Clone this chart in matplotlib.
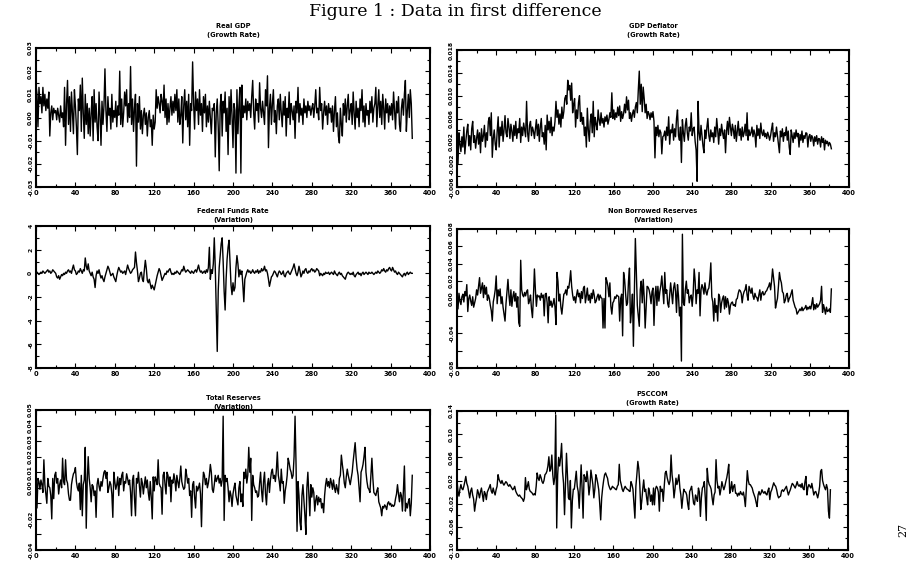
import numpy as np
import matplotlib.pyplot as plt
from matplotlib.ticker import FixedLocator, MultipleLocator

# values; each list is in the unit named in its suffix
# (E3 = thousandths, E4 = ten-thousandths, E1 = tenths), one row per 20 observations

REAL_GDP_E3 = [
    14, 10, -4, 13, 6, 9, 2, 13, 5, 10, 3, 8, 4, 11, -8, 2, 5, -1, 4, 2,
    3, -1, 4, 1, -2, 5, 0, 2, -4, 13, -12, 6, 16, -3, 9, -6, 11, 2, -7, 12,
    5, -4, -16, 8, 3, 14, -6, 17, 2, -9, 10, -3, 6, -7, 4, -8, 2, 9, -10, 12,
    -2, 6, -4, -10, 11, 1, -12, 7, -3, 5, 21, 3, -6, 9, 1, 4, -5, 10, -2, 3,
    0, 7, -4, 5, 1, 20, -3, 8, -4, 2, 11, 5, 12, -2, 6, 0, 22, -3, 8, -6,
    4, 10, -21, 6, -2, 9, -5, 3, -7, 1, 4, -3, 2, -8, 0, 3, -4, -1, -12, 1,
    -5, -2, 12, 4, 9, 6, 2, 10, 7, 3, 14, 0, 8, -3, 6, -2, 4, 9, 1, 7,
    2, 10, 3, 12, -2, 8, -3, 1, 9, -11, 5, 12, -1, 7, -4, 10, -12, 6, 3, 24,
    6, -5, 11, 3, 8, -3, 12, 1, 6, -6, 9, 2, 10, -4, 5, -2, 7, 0, -7, 4,
    3, 6, -17, 2, 8, -4, -23, 5, 10, -8, 7, 2, 11, -6, 4, -16, 9, -3, 12, 1,
    -13, 6, 3, -24, 12, -7, 5, 13, -24, 14, 0, 5, 2, 8, -1, 7, 3, 6, 0, 9,
    16, 2, -5, 8, 3, 6, -2, 15, 4, 0, 7, 2, -3, 12, 5, 18, -13, 4, 10, -3,
    6, 12, -2, 3, -7, 5, 8, -1, 10, 2, -4, 7, 1, 9, -8, 4, 0, 11, -3, 6,
    3, -1, 5, -9, 7, 2, 13, -2, 6, 1, 4, -3, 8, 2, 5, 0, 7, 3, 5, 1,
    4, 6, 0, 5, 12, 2, 4, -1, 13, 3, 6, -5, 2, 7, 1, 5, -3, 6, 2, 4,
    -2, 5, -6, 3, 9, -4, 2, -8, -11, 4, -3, -8, 6, 1, 8, -2, 5, 10, -1, 3,
    6, -3, 11, 2, -5, 7, 0, 4, -4, 8, 3, 12, -2, 5, -4, 6, 1, 3, -3, 7,
    2, 9, -2, 4, 6, 13, -4, 5, 12, 0, 7, -3, 10, 4, -5, 8, 2, 6, -2, 5,
    1, 6, -1, 11, 3, -5, 7, 2, 9, -3, -6, 4, 8, 1, 10, 16, -6, 3, 10, 0, 12, 6, -9,
]

GDP_DEFLATOR_E4 = [
    40, -20, 35, 15, 2, 28, 10, 45, -2, 20, 38, 50, 12, 30, 5, 42, 55, 18, 30, 8,
    25, 40, 15, 35, 0, 42, 20, 30, 48, 10, 35, 22, 55, 62, 30, 70, -8, 25, 40, 15,
    5, 38, 63, 10, 45, 30, 55, 20, 40, 65, 35, 28, 60, 45, 25, 50, 38, 20, 48, 30,
    55, 25, 42, 35, 60, 18, 45, 30, 52, 40, 28, 90, 35, 20, 48, 55, 30, 45, 38, 25,
    42, 58, 30, 50, 20, 45, 60, 28, 35, 15, 48, 5, 66, 40, 55, 35, 62, 30, 45, 38,
    55, 90, 62, 75, 50, 68, 45, 80, 60, 72, 95, 100, 85, 127, 110, 118, 92, 122, 70, 85,
    95, 45, 75, 60, 88, 100, 55, 70, 50, 62, 30, 45, 10, 78, 40, 20, 55, 68, 35, 90,
    28, 62, 50, 40, 75, 58, 48, 70, 52, 60, 45, 63, 55, 66, 50, 58, 70, 62, 105, 60,
    75, 58, 70, 62, 80, 65, 82, 55, 72, 60, 68, 85, 70, 98, 75, 92, 60, 70, 55, 68,
    75, 62, 80, 88, 70, 110, 143, 85, 120, 72, 115, 95, 70, 85, 60, 72, 68, 58, 70, 62,
    72, 55, -9, 45, 30, 48, 28, 40, 35, -2, 28, 30, 38, 22, 45, 30, 63, 15, 40, 35,
    50, 22, 42, 28, 60, 75, 30, 22, 45, -17, 58, 35, 20, 48, 60, 35, 22, 45, 38, 70,
    30, 42, 45, 20, 5, -50, 90, 35, 22, 48, 30, 12, 0, 40, 25, 45, 60, 30, 20, 40,
    28, 35, 18, 45, 28, 60, 40, 15, 42, 30, 50, 35, 25, 40, 0, 38, 55, 32, 62, 45,
    30, 50, 40, 25, 48, 20, 38, 55, 30, 42, 22, 45, 28, 35, 50, 30, 70, 22, 40, 30,
    35, 45, 28, 40, 32, 10, 48, 30, 42, 25, 52, 35, 30, 40, 28, 34, 25, 36, 30, 22,
    30, 42, 52, 20, 35, 28, 45, 30, 15, 0, 38, 28, 42, 20, 35, 30, 45, 22, 38, 10,
    -3, 40, 30, 18, 35, 25, 40, 28, 34, 10, 32, 22, 38, 18, 30, 25, 35, 34, 10, 28,
    32, 20, 30, 26, 12, 28, 20, 30, 15, 25, 24, 10, 28, 18, 25, 5, 22, 16, 20, 12, 18, 15, 7,
]

FED_FUNDS_E1 = [
    0, 1, 0, -1, 0, 1, 0, 2, 1, 0, 1, 2, 3, 1, 2, 0, 1, 3, 2, 1,
    0, -3, -4, -2, -5, -3, -1, -2, 0, -1, 1, 0, 2, 3, 1, 2, 0, 4, 7, 3,
    2, -1, 0, 2, 1, 4, 2, 0, 3, 2, 13, 6, 3, 8, 2, 0, -2, 1, -3, -5,
    -12, -2, 2, 0, 3, -1, -4, -2, -5, -7, -3, 0, 3, 6, 4, 1, -2, -1, 0, -3,
    -5, -7, -2, 2, 5, 3, 1, 2, 0, 1, 2, -1, 3, 7, 4, 2, 0, 1, 3, 4,
    5, 18, 9, 2, -7, -4, 0, 1, -5, -7, 3, 11, 4, -6, -8, -5, -9, -13, -10, -12,
    -14, -10, -6, -2, 1, 4, 2, -2, -6, -4, -2, 0, -1, 2, 1, 3, 4, 1, -1, 0,
    -1, 1, 0, 2, 1, 0, -1, 1, 3, 2, 6, 3, 1, 2, 3, 2, 1, 0, 2, 1,
    0, 2, 3, 1, 4, 7, 3, 1, 2, 0, 1, 2, 0, 3, 1, 5, 22, -5, 3, 0,
    8, 30, 5, -30, -66, -15, 5, 15, 25, 30, 10, -15, -31, -5, 12, 22, 28, 8, -10, -18,
    -8, -15, -12, 5, 15, 8, -3, 3, -1, 2, -10, -24, -5, -2, 1, 3, 1, 2, 0, 1,
    3, 1, 0, 2, 1, 3, 0, 2, 1, 4, 2, 3, 6, 2, 3, 0, -5, -11, -7, -3,
    -2, 0, 2, 1, -1, -3, 0, 2, 1, -1, 0, 2, -2, -3, 0, 1, 2, 0, -1, 1,
    3, 5, 8, 4, 0, -2, 1, 6, 2, -3, -1, 2, 0, 3, 4, 1, 0, 2, 1, 3,
    4, 2, 3, 1, 2, 4, 3, 2, -2, 0, -1, -2, 0, -1, 1, 0, 0, 1, -1, 0,
    1, 0, -1, 2, 0, -1, -2, 0, 1, -1, 0, -2, -3, -4, -5, -2, 0, 1, 0, -1,
    0, -1, 1, -2, -3, -1, 0, 1, -1, 0, -2, 0, 1, -1, 0, 1, 0, -1, 1, 0,
    0, 1, 0, -1, 0, 1, 0, 2, 1, 0, 1, 3, 2, 4, 2, 1, 3, 2, 4, 5,
    3, 2, 5, 3, 1, 2, 0, -1, 1, 0, -1, -2, -3, -1, 0, -2, 0, 1, -1, 0, 1, 0, 0,
]

NONBORROWED_E3 = [
    0, -12, 6, -3, -7, 2, 5, -4, 8, 3, 16, -15, 0, 4, -3, -8, 2, -10, -5, 0,
    10, 4, 14, 24, 6, 12, 18, 1, 15, 5, 13, -2, 4, 0, -8, -14, -26, -4, 2, 10,
    26, -6, 10, 3, 11, -6, 2, -10, -18, -26, -6, 8, 22, 4, -8, 10, -9, 2, 8, -3,
    6, -10, 2, -28, -32, 44, 10, 4, 2, 7, 3, 8, 10, -6, -2, 4, -12, -22, 2, 34,
    10, -9, 4, 2, 3, -2, 6, 1, 4, -20, 5, 6, -5, -28, 2, -8, -3, -10, -6, 0,
    -10, -30, 30, 20, -3, 5, -10, -18, -7, 5, 6, 10, 4, 14, 12, 20, 32, 14, 4, -2,
    2, -5, 4, 10, 2, 6, -5, 8, 0, 12, 14, -5, 3, 12, -2, 4, -5, 6, 0, 10,
    4, -5, -3, 2, 5, -2, 4, 1, 0, -34, 0, -34, 24, 20, 14, 2, 18, -9, -18, -5,
    -3, 2, 0, 4, 3, 2, -26, 0, 5, -43, 30, 22, 6, -8, -5, 20, 35, -28, -15, 5,
    -55, 10, 69, 30, -8, -20, -32, 10, 20, -5, 22, 2, -34, -10, 14, 13, 10, 4, -6, 8,
    12, -31, 3, 14, -8, 14, -3, 8, 15, 26, 10, -6, 30, 6, 10, -6, -10, 4, 18, 6,
    -6, 12, 18, 8, -16, 16, 3, -20, -10, -72, 74, -5, -8, 10, 20, 6, 10, -5, 2, 4,
    -9, 6, 34, 20, -6, 10, 6, 30, -20, 10, 16, 12, 5, 18, 8, 4, 10, 12, 22, 41,
    2, -4, -26, 0, -16, -8, -26, 5, 2, -16, -5, 0, 3, -12, 2, -10, 0, -5, -18, -8,
    -5, -4, -8, -7, -9, -1, 0, 6, 10, 9, 6, -5, 4, 8, 10, 16, 4, -2, 14, 10,
    6, 12, 3, -1, 6, 2, 1, -3, 4, 10, -2, 6, 8, 4, 5, 8, 9, 12, 14, 18,
    10, 20, 34, 24, 14, -11, -5, 0, 14, 30, 22, 18, 8, 6, -5, -2, 4, 6, -4, 0,
    2, 6, 10, -2, -6, -10, -12, -18, -16, -14, -12, -14, -10, -14, -12, -11, -8, -13, -10, -12,
    -9, -12, -6, 1, -13, -7, -12, -6, -10, -8, -6, -2, 14, -16, -7, -12, -18, -10, -15, -14, -12, -16, 11,
]

TOTAL_RESERVES_E3 = [
    11, -13, 6, 4, -1, 5, 2, -3, 18, 2, -4, -10, 6, 1, 0, -5, -20, 6, -7, 8,
    10, 3, 6, -4, 2, 5, 0, 19, 4, 2, 18, 5, 3, -4, -8, -8, 2, 6, 9, 10,
    13, 4, 0, -2, 3, -14, 8, -18, 2, 5, 26, -26, 4, 20, 6, 0, -9, 2, 1, -5,
    -2, -19, 2, 6, 1, -2, 4, 1, 6, 10, 11, 6, 10, -3, 0, 4, 2, -4, -19, 10,
    4, -1, 2, 7, -5, 6, 2, 8, 10, -2, 4, 3, 9, 6, 2, 5, -3, -18, 5, 8,
    -7, -18, 6, 3, 10, 1, -6, 6, 3, -4, 2, 7, 0, 5, -3, -8, 4, -6, -20, 7,
    -2, 7, 5, 2, 18, 3, 1, 0, -17, 8, 10, 2, -4, 10, 8, 1, 7, -9, 5, 3,
    9, 5, -2, 8, 4, 0, 6, 14, 4, 1, -1, 0, 12, 8, 3, 6, -5, -2, -19, 2,
    4, -6, -13, 1, -2, 0, 3, -4, -25, 0, 10, 8, 2, 6, 0, 3, 8, 15, 10, -1,
    -3, 2, 8, 4, 6, 8, 3, 6, 1, 5, 46, -21, 8, 4, 6, 0, -9, -2, -5, -12,
    -4, 0, 3, -5, -8, -11, 0, 4, -9, -4, -12, 10, 6, 12, 3, 8, 26, 10, 19, -21,
    8, 2, 0, -3, -2, -6, -5, 3, 10, -2, -9, 4, 10, -4, -11, 2, 6, -3, 5, 10,
    12, 6, 8, 4, 11, 23, 8, 4, -2, 12, 3, 4, -10, -2, 2, 8, 19, 16, 12, 10,
    6, 8, 20, 46, 15, -28, 4, -5, -22, -27, -5, 2, -8, -18, -30, 0, 10, -4, -18, 2,
    -6, 0, -3, -15, -8, -5, -11, -6, -9, -7, -13, -10, -16, -5, 2, 6, 1, 4, 0, 6,
    3, -1, 5, 0, -3, 2, -1, -4, 6, 8, 21, 15, 10, 3, 0, 7, 12, 8, 5, 2,
    6, 10, 17, 23, 29, 19, 12, 8, 0, -9, 10, 12, 15, 20, 26, 10, 4, 0, -1, -3,
    8, 19, 6, -3, -4, -5, -2, 0, -9, -11, -13, -18, -12, -13, -11, -12, -14, -10, -9, -11,
    -10, -12, -11, -12, -11, -7, -4, 2, -4, -9, -3, -5, -15, -2, 14, -15, -10, -13, -9, -7, -18, -10, 8,
]

PSCCOM_E3 = [
    20, 1, -7, 5, 13, 6, 4, 10, 18, 27, 15, 10, 0, -10, 2, 7, -5, -12, -33, -20,
    -10, 4, -2, -10, 0, 7, -5, -16, 1, -3, -13, 0, 4, 8, 13, 2, -2, 7, 0, -5,
    4, 10, 30, 22, 18, 15, 20, 15, 12, 15, 18, 16, 12, 10, 13, 10, 7, 4, 6, 10,
    2, -2, -5, -7, -5, -8, -10, -12, -16, -10, 25, 4, 10, 18, 5, 1, 0, -2, -5, -3,
    -5, 10, 33, 24, 20, 30, 25, 18, 15, 20, 30, 32, 36, 45, 61, 36, 40, 64, 30, 13,
    25, 133, -62, 30, 60, 45, 60, 84, 35, 15, -39, 12, 67, 30, -10, -13, 20, -62, -15, 5,
    5, 20, 36, 10, 1, -28, 10, 47, 5, -45, 30, 25, 18, 36, 20, -5, 10, 38, 25, 13,
    -10, 5, 30, 24, 15, 4, -20, -48, -10, 7, 20, 30, 33, 28, 24, 13, 8, 4, 6, 10,
    8, 7, 5, 4, 10, 13, 48, 20, 13, 5, 1, 6, 10, 7, 5, 4, 2, 1, 18, 13,
    5, -20, -45, 10, 30, 53, 40, 13, -30, -16, 5, 21, 1, 5, -10, -22, 7, 0, -16, -5,
    -22, 7, -22, 5, 10, 7, 0, -33, 10, 1, 5, -16, 10, 33, 36, 25, 18, 13, 20, 64,
    30, 15, -10, 5, 24, 13, 20, 30, 7, -5, -28, -10, 5, 1, 0, -5, -20, -30, 1, 5,
    10, -5, -19, -22, -5, -10, -16, 7, 0, -42, -10, 7, 10, 18, -10, -49, 41, 20, 13, 10,
    5, -10, -22, -5, 0, 56, 20, 7, 10, -5, 5, 18, 10, 4, 10, 18, 25, 35, 48, -2,
    5, 18, 1, 10, 13, -2, -2, -7, -2, -5, 1, -3, -5, 0, -10, -25, 5, 37, 20, 13,
    13, 10, 7, 0, -5, -10, -18, -25, -5, 1, -5, -2, 4, 0, -2, 1, -3, -5, 2, 7,
    -13, 0, 4, 10, 16, 12, 10, 4, -5, -10, -8, -7, 2, 4, 1, 4, 7, 10, 2, -5,
    0, 4, 10, 15, 13, 10, 7, 12, 18, 12, 10, 13, 8, 15, 6, 4, 18, 27, -5, 8,
    13, 10, 7, 15, 5, -5, 0, 1, -4, -10, -2, 10, 36, 39, 20, 13, 8, 4, 13, 6, -33, -45, 4,
]

TITLES = [
    "Real GDP\n(Growth Rate)",
    "GDP Deflator\n(Growth Rate)",
    "Federal Funds Rate\n(Variation)",
    "Non Borrowed Reserves\n(Variation)",
    "Total Reserves\n(Variation)",
    "PSCCOM\n(Growth Rate)",
]

Y_TICKS = [
    [-0.03, -0.02, -0.01, 0.0, 0.01, 0.02, 0.03],
    [-0.006, -0.002, 0.002, 0.006, 0.010, 0.014, 0.018],
    [-8, -6, -4, -2, 0, 2, 4],
    [-0.08, -0.06, -0.04, -0.02, 0.0, 0.02, 0.04, 0.06, 0.08],
    [-0.04, -0.03, -0.02, -0.01, 0.0, 0.01, 0.02, 0.03, 0.04, 0.05],
    [-0.10, -0.06, -0.02, 0.02, 0.06, 0.10, 0.14],
]
Y_LABELS = [
    ["-0.03", "-0.02", "-0.01", "0.00", "0.01", "0.02", "0.03"],
    ["-0.006", "-0.002", "0.002", "0.006", "0.010", "0.014", "0.018"],
    ["-8", "-6", "-4", "-2", "0", "2", "4"],
    ["-0.08", "", "-0.04", "", "0.00", "0.02", "0.04", "0.06", "0.08"],
    ["-0.04", "", "-0.02", "", "0.00", "0.01", "0.02", "0.03", "0.04", "0.05"],
    ["-0.10", "-0.06", "-0.02", "0.02", "0.06", "0.10", "0.14"],
]
X_TICKS = [0, 40, 80, 120, 160, 200, 240, 280, 320, 360, 400]

series = [
    np.array(REAL_GDP_E3) / 1e3,
    np.array(GDP_DEFLATOR_E4) / 1e4,
    np.array(FED_FUNDS_E1) / 1e1,
    np.array(NONBORROWED_E3) / 1e3,
    np.array(TOTAL_RESERVES_E3) / 1e3,
    np.array(PSCCOM_E3) / 1e3,
]

# layout in pixels of the 910x571 page: (left, top, right, bottom), title centre y
W, H = 910, 571
boxes = [
    (36, 48, 430, 187), (457, 50, 849, 187),
    (36, 226, 430, 368), (457, 229, 849, 368),
    (36, 410, 430, 550), (457, 411, 848, 550),
]
title_y = [31, 31, 215, 215, 402, 399]
minor_y = [0.005, 0.002, 1, None, None, 0.02]

plt.rcParams["axes.unicode_minus"] = False
fig = plt.figure(figsize=(W / 100, H / 100), dpi=100)

fig.text(0.5, 1 - 11 / H, "Figure 1 : Data in first difference",
         ha="center", va="center", family="DejaVu Serif", fontsize=12.5)

x_font = dict(family="DejaVu Sans", weight="bold", size=4.8)
y_font = dict(family="DejaVu Sans", weight="bold", size=4.3)

for i, y in enumerate(series):
    l, t, r, b = boxes[i]
    ax = fig.add_axes([l / W, 1 - b / H, (r - l) / W, (b - t) / H])
    ax.plot(np.arange(len(y)), y, color="black", lw=1.0)
    ax.set_xlim(0, 400)
    ax.set_ylim(Y_TICKS[i][0], Y_TICKS[i][-1])

    ax.xaxis.set_major_locator(FixedLocator(X_TICKS))
    ax.xaxis.set_minor_locator(MultipleLocator(20))
    ax.set_xticklabels([str(v) for v in X_TICKS], fontdict=x_font)
    ax.yaxis.set_major_locator(FixedLocator(Y_TICKS[i]))
    if minor_y[i]:
        ax.yaxis.set_minor_locator(MultipleLocator(minor_y[i]))
    ax.set_yticklabels(Y_LABELS[i], fontdict=y_font, rotation=90, va="center")

    ax.tick_params(which="both", direction="in", top=True, right=True, width=0.8)
    ax.tick_params(which="major", length=3.5, pad=2)
    ax.tick_params(which="minor", length=2)
    for s in ax.spines.values():
        s.set_linewidth(1.5)

    fig.text((l + r) / 2 / W, 1 - title_y[i] / H, TITLES[i], ha="center", va="center",
             family="DejaVu Sans", weight="bold", fontsize=4.8, linespacing=1.6)

fig.text(903 / W, 1 - 530 / H, "27", rotation=90, ha="center", va="center",
         family="DejaVu Serif", fontsize=8)

fig.savefig("out.png", dpi=100)
